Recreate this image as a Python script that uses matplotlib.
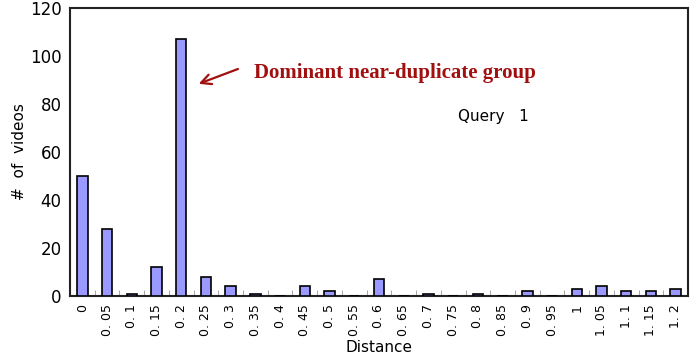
import matplotlib.pyplot as plt
import numpy as np

distances = ['0', '0. 05', '0. 1', '0. 15', '0. 2', '0. 25', '0. 3', '0. 35', '0. 4',
             '0. 45', '0. 5', '0. 55', '0. 6', '0. 65', '0. 7', '0. 75', '0. 8', '0. 85',
             '0. 9', '0. 95', '1', '1. 05', '1. 1', '1. 15', '1. 2']
counts = [50, 28, 1, 12, 107, 8, 4, 1, 0, 4, 2, 0, 7, 0, 1, 0, 1, 0, 2, 0, 3, 4, 2, 2, 3]

fig = plt.figure(figsize=(6.95, 3.57), dpi=100)
ax = fig.add_axes([70 / 695, 1 - 296 / 357, 618 / 695, 288 / 357])

x = np.arange(len(distances))
ax.bar(x, counts, width=0.42, color='#9999ff', edgecolor='black', linewidth=1.2, zorder=3)

ax.set_xlim(-0.5, len(distances) - 0.5)
ax.set_ylim(0, 120)
ax.set_yticks(np.arange(0, 121, 20))
ax.tick_params(axis='y', length=0, labelsize=12, pad=6)
ax.set_xticks(x)
ax.set_xticklabels(distances, rotation=90, fontsize=9)
ax.tick_params(axis='x', length=0, pad=6)
ax.set_xticks(x[:-1] + 0.5, minor=True)
ax.tick_params(axis='x', which='minor', direction='in', length=4, color='#999999')
for s in ax.spines.values():
    s.set_linewidth(1.5)
    s.set_color('#222222')

ax.set_ylabel('#  of  videos', fontsize=11, labelpad=2)
ax.set_xlabel('Distance', fontsize=11, labelpad=3)

ax.annotate('', xy=(4.6, 88), xytext=(6.4, 95),
            arrowprops=dict(arrowstyle='->', color='#a01010', lw=1.6, mutation_scale=18))
ax.text(6.95, 93, 'Dominant near-duplicate group', family='Liberation Serif',
        fontweight='bold', fontsize=15, color='#a01010', va='center')
ax.text(15.2, 75, 'Query   1', fontsize=11, va='center')

fig.savefig('out.png', dpi=100)
